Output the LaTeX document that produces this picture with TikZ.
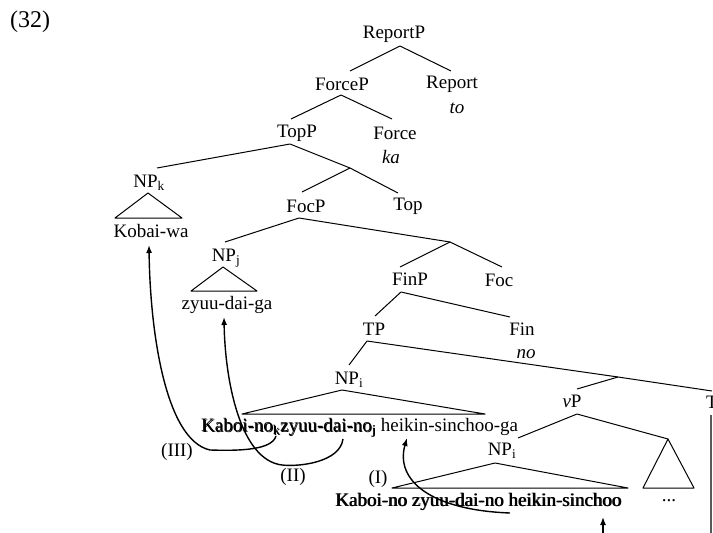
\documentclass[tikz,border=0pt]{standalone}
\usepackage{fontspec}
\setmainfont{Liberation Serif}
\usetikzlibrary{arrows.meta}
% text printed twice with a small offset (heavy, shadowed look)
\newcommand\shadowtext[1]{\rlap{\hspace{0.8pt}\raisebox{-0.7pt}{#1}}#1}
\begin{document}
\begin{tikzpicture}[x={(1pt,0)}, y={(0,-1pt)},
  lbl/.style={font=\fontsize{19}{23}\selectfont, inner sep=0pt},
  branch/.style={line width=1pt, line join=round},
  move/.style={line width=1.4pt, -{Latex[length=8pt,width=6pt]}}]
\fill[white] (0,0) rectangle (713,533);
\useasboundingbox (0,0) rectangle (713,533);

% example number
\node[lbl, font=\fontsize{24}{28}\selectfont] (ex) at (30,22) {(32)};

% category labels
\node[lbl] (reportP) at (394,34) {ReportP};
\node[lbl] (forceP) at (342,84) {ForceP};
\node[lbl] (report) at (452,84) {Report};
\node[lbl] (to) at (457,108) {\textit{to}};
\node[lbl] (topP) at (297,133) {TopP};
\node[lbl] (force) at (395,133) {Force};
\node[lbl] (ka) at (391,157) {\textit{ka}};
\node[lbl] (npk) at (149,183) {NP\textsubscript{k}};
\node[lbl] (kobai) at (151,231) {Kobai-wa};
\node[lbl] (focP) at (306,206) {FocP};
\node[lbl] (top) at (408,206) {Top};
\node[lbl] (npj) at (226,258) {NP\textsubscript{j}};
\node[lbl] (zyuu) at (227,305) {zyuu-dai-ga};
\node[lbl] (finP) at (410,279) {FinP};
\node[lbl] (foc) at (499,280) {Foc};
\node[lbl] (tp) at (374,329) {TP};
\node[lbl] (fin) at (522,329) {Fin};
\node[lbl] (no) at (526,354) {\textit{no}};
\node[lbl] (npiA) at (349,380) {NP\textsubscript{i}};
\node[lbl, anchor=west] (subj) at (201,428)
  {\shadowtext{Kaboi-no\textsubscript{k}zyuu-dai-no\textsubscript{j}} heikin-sinchoo-ga};
\node[lbl] (vP) at (572,401) {\textit{v}P};
\node[lbl, anchor=west] (T) at (706,402) {T};
\node[lbl] (npiB) at (502,451) {NP\textsubscript{i}};
\node[lbl, anchor=west] (base) at (335,502)
  {\shadowtext{Kaboi-no zyuu-dai-no heikin-sinchoo}};
\node[lbl] (dots) at (669,501) {...};
\node[lbl] (lIII) at (177,452) {(III)};
\node[lbl] (lII) at (293,477) {(II)};
\node[lbl] (lI) at (378,479) {(I)};

% branching points and branch ends
\coordinate (aR) at (400,46);  \coordinate (aRl) at (350,71);  \coordinate (aRr) at (451,71);
\coordinate (aF) at (341,95);  \coordinate (aFl) at (291,119); \coordinate (aFr) at (392,119);
\coordinate (aT) at (290,144); \coordinate (aTl) at (157,168);
\coordinate (aTb) at (350,168); \coordinate (aTbl) at (302,192); \coordinate (aTbr) at (398,193);
\coordinate (aC) at (299,218); \coordinate (aCl) at (225,242);
\coordinate (aCb) at (450,242); \coordinate (aCbl) at (400,267); \coordinate (aCbr) at (502,267);
\coordinate (aN) at (401,292); \coordinate (aNl) at (375,316); \coordinate (aNr) at (510,317);
\coordinate (aP) at (367,341); \coordinate (aPl) at (349,365);
\coordinate (aPb) at (618,377); \coordinate (aPbl) at (577,389); \coordinate (aPbr) at (712,391);
\coordinate (aV) at (577,414); \coordinate (aVl) at (518,438); \coordinate (aVr) at (668,439);

% tree branches
\draw[branch] (aRl) -- (aR) -- (aRr);
\draw[branch] (aFl) -- (aF) -- (aFr);
\draw[branch] (aTl) -- (aT) -- (aTb);
\draw[branch] (aTbl) -- (aTb) -- (aTbr);
\draw[branch] (aCl) -- (aC) -- (aCb);
\draw[branch] (aCbl) -- (aCb) -- (aCbr);
\draw[branch] (aNl) -- (aN) -- (aNr);
\draw[branch] (aPl) -- (aP) -- (aPb);
\draw[branch] (aPbl) -- (aPb) -- (aPbr);
\draw[branch] (aVl) -- (aV) -- (aVr);

% triangles
\draw[branch] (148,193) -- (115,218) -- (182,218) -- cycle;
\draw[branch] (223,267) -- (191,291) -- (257,291) -- cycle;
\draw[branch] (342,390) -- (242,414) -- (485,414) -- cycle;
\draw[branch] (495,463) -- (392,488) -- (628,488) -- cycle;
\draw[branch] (aVr) -- (643,488) -- (694,488) -- cycle;

% vertical rule under T
\coordinate (rTop) at (711,415);
\coordinate (rBot) at (711,533);
\draw[line width=1.8pt, black!65] (rTop) -- (rBot);

% movement arrows
\coordinate (sIII) at (276,436);
\coordinate (sII) at (343,439);
\coordinate (sI) at (510,513);
\coordinate (kobaiFoot) at (149,245);
\coordinate (zyuuFoot) at (224,317);
\coordinate (subjFoot) at (407,438);
\coordinate (baseFoot) at (603,517);
\coordinate (baseFree) at (603,540);

\draw[move] (sIII) .. controls (272,450) and (240,451) .. (210,450)
  .. controls (165,440) and (150,330) .. (kobaiFoot);
\draw[move] (sII) .. controls (340,462) and (300,467) .. (282,465)
  .. controls (240,460) and (225,380) .. (zyuuFoot);
\draw[move] (sI) .. controls (430,510) and (395,480) .. (subjFoot);
\draw[move] (baseFree) -- (baseFoot);
\end{tikzpicture}
\end{document}
